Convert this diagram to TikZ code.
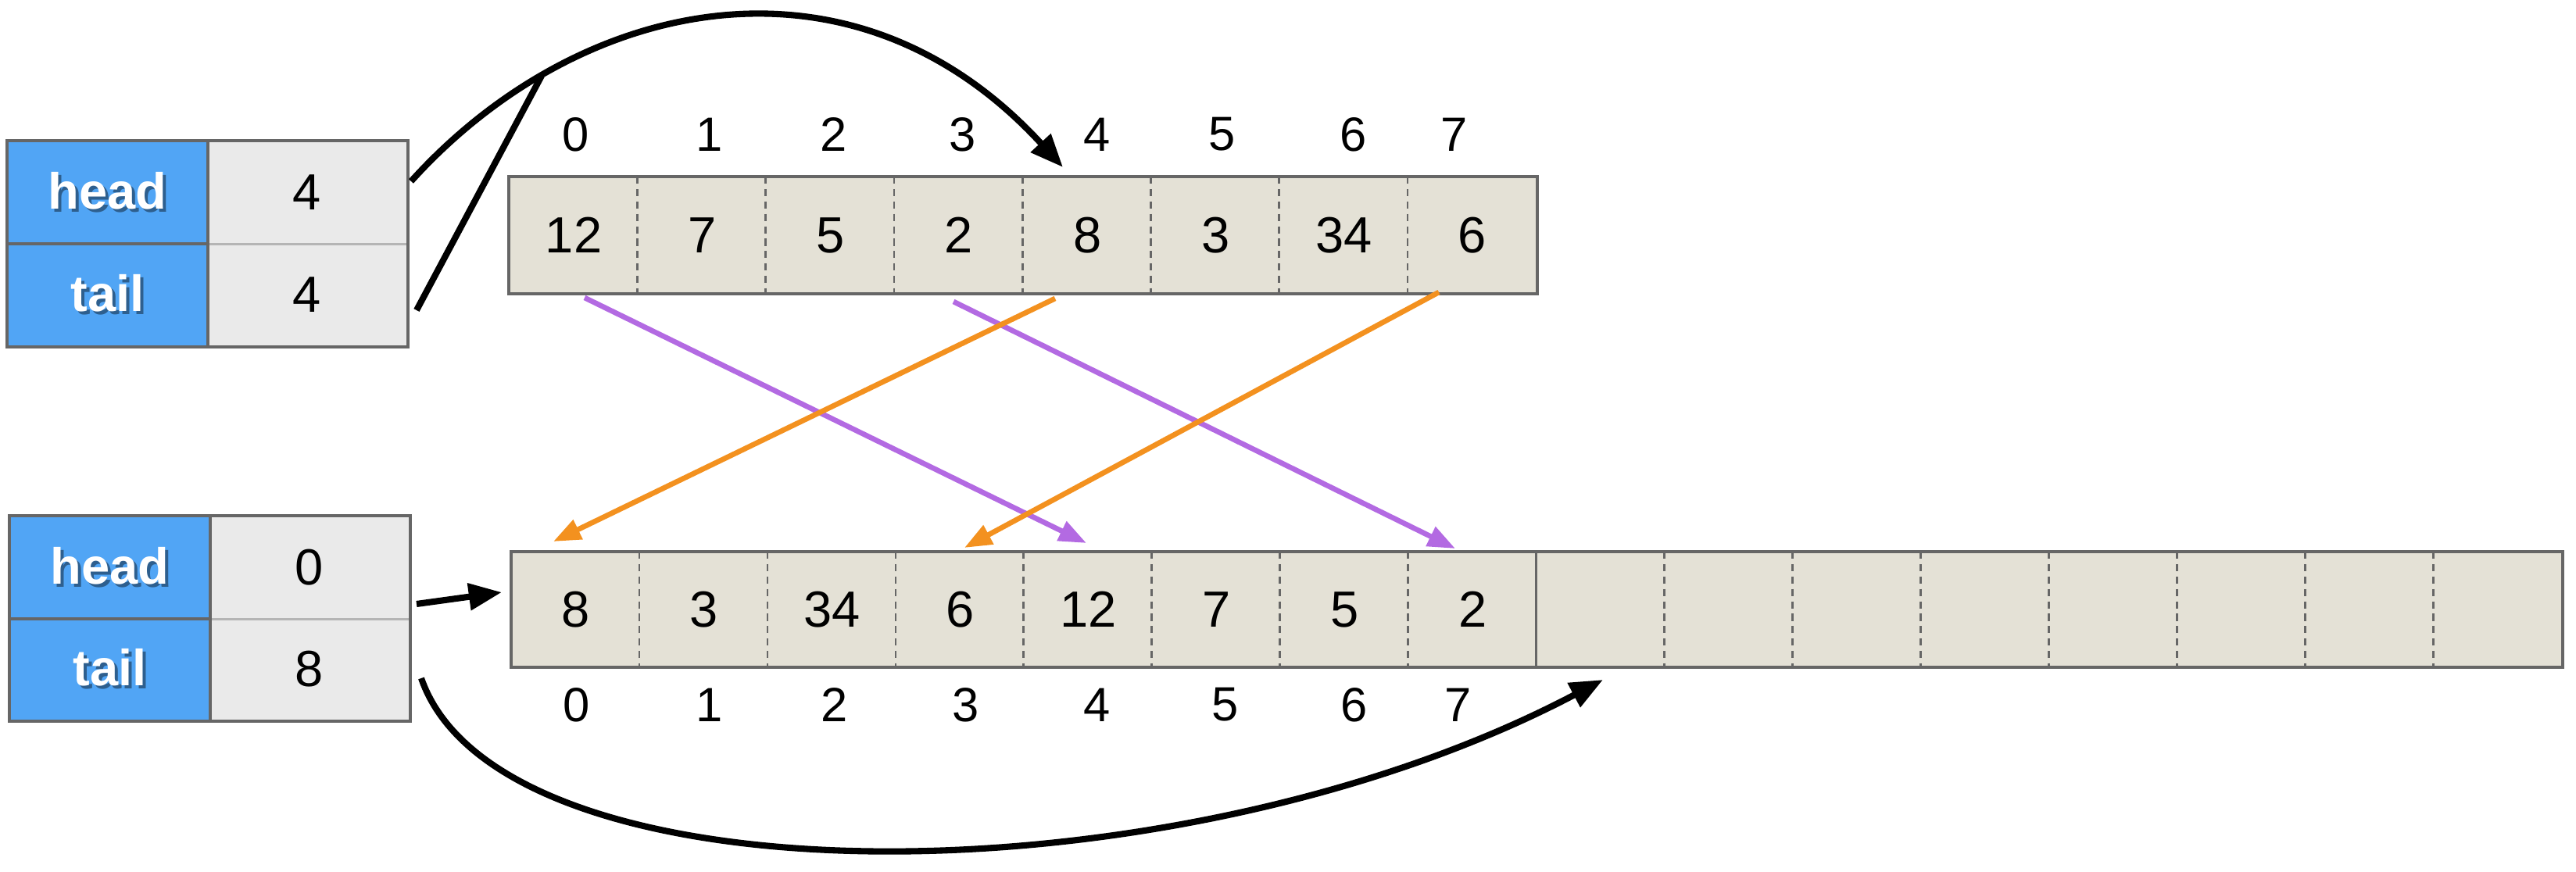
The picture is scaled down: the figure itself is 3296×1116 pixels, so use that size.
\documentclass[tikz,border=0pt]{standalone}
\usepackage{fontspec}
\setmainfont{Liberation Sans}
\usetikzlibrary{arrows.meta}
\definecolor{hblue}{HTML}{51A5F5}
\definecolor{vgrey}{HTML}{EAEAEA}
\definecolor{abeige}{HTML}{E4E1D6}
\definecolor{bgrey}{HTML}{666666}
\definecolor{lgrey}{HTML}{B5B5B5}
\definecolor{purp}{HTML}{B36AE2}
\definecolor{orng}{HTML}{F3911F}
\definecolor{shadowc}{HTML}{2E5F8E}
\newcommand\shtext[1]{\rlap{\kern1.2pt\raisebox{-1.2pt}{\textcolor{shadowc}{#1}}}\textcolor{white}{#1}}
\begin{document}
\begin{tikzpicture}[x=0.01cm,y=-0.01cm,
  keycell/.style={fill=hblue, inner sep=0pt, minimum width=2.55cm, minimum height=1.31cm, font=\bfseries\fontsize{18.5}{20}\selectfont},
  valcell/.style={fill=vgrey, inner sep=0pt, minimum width=2.56cm, minimum height=1.31cm, font=\fontsize{18.5}{20}\selectfont},
  arrcell/.style={fill=abeige, inner sep=0pt, minimum width=1.6425cm, minimum height=1.48cm, font=\fontsize{18.5}{20}\selectfont},
  idx/.style={inner sep=0pt, font=\fontsize{17.5}{19}\selectfont},
  boxline/.style={draw=bgrey, line width=1.2pt},
  thinline/.style={draw=bgrey, line width=0.7pt},
  dashdiv/.style={draw=bgrey, line width=0.8pt, dash pattern=on 2.6pt off 1.9pt},
  blkline/.style={draw=black, line width=2.3pt},
  blkarrow/.style={blkline, -{Triangle[length=12pt,width=9.5pt]}},
  purparrow/.style={draw=purp, line width=1.9pt, -{Triangle[length=10pt,width=7.5pt]}},
  orngarrow/.style={draw=orng, line width=1.9pt, -{Triangle[length=10pt,width=7.5pt]}}
]
\useasboundingbox (0,0) rectangle (3296,1116);

% ---------- top table ----------
\node[keycell] (th) at (137.5,246) {\shtext{head}};
\node[keycell] (tt) at (137.5,377.5) {\shtext{tail}};
\node[valcell] (thv) at (393,246) {4};
\node[valcell] (ttv) at (393,377.5) {4};
\draw[draw=lgrey, line width=0.9pt] (thv.south west) -- (thv.south east);
\draw[boxline] (th.south west) -- (th.south east);
\draw[boxline] (th.north east) -- (tt.south east);
\draw[boxline] (th.north west) rectangle (ttv.south east);

% ---------- bottom table ----------
\node[keycell] (bh) at (140.5,726) {\shtext{head}};
\node[keycell] (bt) at (140.5,856.5) {\shtext{tail}};
\node[valcell] (bhv) at (396,726) {0};
\node[valcell] (btv) at (396,856.5) {8};
\draw[draw=lgrey, line width=0.9pt] (bhv.south west) -- (bhv.south east);
\draw[boxline] (bh.south west) -- (bh.south east);
\draw[boxline] (bh.north east) -- (bt.south east);
\draw[boxline] (bh.north west) rectangle (btv.south east);

% ---------- top array ----------
\foreach \v [count=\i from 0] in {12,7,5,2,8,3,34,6}
  \node[arrcell] (ta\i) at ({652+164.25*(\i+0.5)},301) {\v};
\foreach \i in {1,...,7}
  \draw[dashdiv] (ta\i.north west) -- (ta\i.south west);
\draw[boxline] (ta0.north west) rectangle (ta7.south east);
\foreach \x [count=\i from 0] in {737,908,1067,1232,1404,1564,1732,1861}
  \node[idx] (ti\i) at (\x,172) {\i};

% ---------- bottom array ----------
\foreach \v [count=\i from 0] in {8,3,34,6,12,7,5,2,{},{},{},{},{},{},{},{}}
  \node[arrcell, minimum height=1.46cm] (ba\i) at ({655+163.94*(\i+0.5)},780) {\v};
\foreach \i in {1,...,7,9,10,11,12,13,14,15}
  \draw[dashdiv] (ba\i.north west) -- (ba\i.south west);
\draw[thinline] (ba8.north west) -- (ba8.south west);
\draw[boxline] (ba0.north west) rectangle (ba15.south east);
\foreach \x [count=\i from 0] in {738,908,1068,1236,1404,1568,1733,1866}
  \node[idx] (bi\i) at (\x,902) {\i};

% ---------- coloured move arrows ----------
\coordinate (p1s) at (748,381);  \coordinate (p1e) at (1390,695);
\coordinate (p2s) at (1220,386); \coordinate (p2e) at (1862,702);
\coordinate (o1s) at (1350,382); \coordinate (o1e) at (708,693);
\coordinate (o2s) at (1841,374); \coordinate (o2e) at (1234,701);
\draw[purparrow] (p1s) -- (p1e);
\draw[purparrow] (p2s) -- (p2e);
\draw[orngarrow] (o1s) -- (o1e);
\draw[orngarrow] (o2s) -- (o2e);

% ---------- black pointers ----------
\coordinate (c1s) at (526,232);
\coordinate (c1e) at (1360,214);
\coordinate (jn) at (693,97);
\coordinate (c2s) at (533,397);
\draw[blkarrow] (c1s) .. controls (740,-5) and (1090,-80) .. (c1e);
\draw[blkline] (c2s) -- (jn);

\coordinate (d1s) at (533,773);
\coordinate (d1e) at (642,758);
\draw[blkarrow] (d1s) -- (d1e);

\coordinate (d2s) at (539,868);
\coordinate (d2e) at (2051,870);
\draw[blkarrow] (d2s) .. controls (640,1160) and (1500,1160) .. (d2e);
\end{tikzpicture}
\end{document}
